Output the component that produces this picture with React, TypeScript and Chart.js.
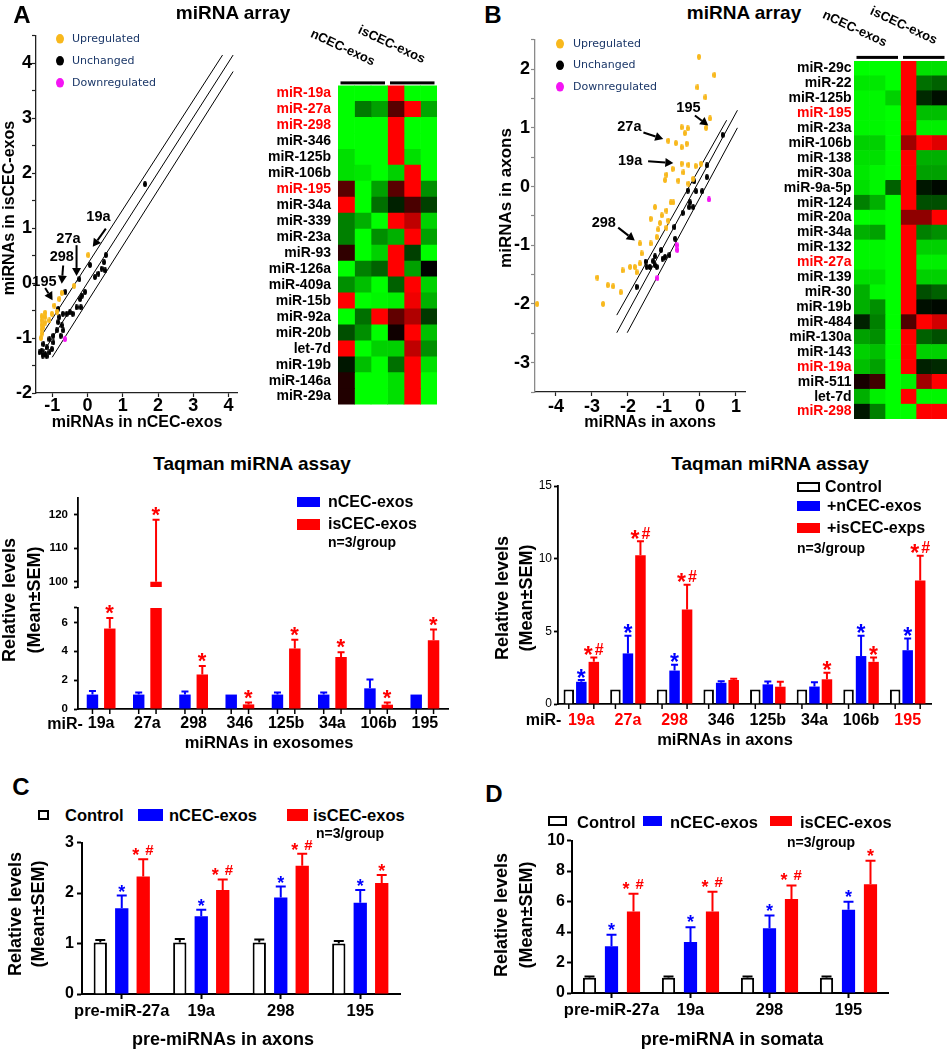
import React, { useEffect, useRef } from 'react';
import { Chart, registerables } from 'chart.js';

Chart.register(...registerables);
const FONT = "'Liberation Sans', Arial, Helvetica, sans-serif";
Chart.defaults.font.family = FONT;
Chart.defaults.color = '#000';

const BLUE = '#0000FF';
const RED = '#FF0000';
const ORANGE = '#F8B81C';
const MAGENTA = '#F414F4';
const NAVY = '#1B3768';

// ================= Panel A : miRNA array scatter =================
const upA = [[0.02,0.51],[-0.38,-0.05],[-0.73,-0.18],[-0.8,-0.29],[-0.94,-0.41],[-0.86,-0.52],[-1.01,-0.56],[-1.2,-0.54],[-1.2,-0.62],[-1.2,-0.72],[-1.08,-0.68],[-1.3,-0.6],[-1.3,-0.68],[-1.3,-0.76],[-1.3,-0.84],[-1.3,-0.92],[-1.32,-1.0],[-1.25,-0.8]];
const unchangedA = [[1.63,1.8],[0.52,0.51],[0.07,0.33],[0.47,0.38],[0.4,0.26],[0.31,0.17],[0.21,0.11],[0.5,0.23],[-0.23,0.07],[-0.07,-0.16],[-0.16,-0.23],[-0.21,-0.29],[-0.31,-0.44],[-0.19,-0.44],[-0.42,-0.56],[-0.5,-0.53],[-0.59,-0.56],[-0.7,-0.56],[-0.63,-0.16],[-0.83,-0.47],[-0.8,-0.62],[-0.83,-0.71],[-0.73,-0.77],[-0.87,-0.86],[-0.69,-0.86],[-0.76,-0.96],[-0.97,-0.96],[-1.08,-1.02],[-0.97,-1.08],[-1.16,-1.17],[-1.25,-1.11],[-1.3,-1.23],[-1.2,-1.29],[-1.08,-1.26],[-1.01,-1.2],[-1.27,-1.32],[-1.16,-1.33],[-1.36,-1.26]];
const downA = [[-0.64,-1.02]];
const refLinesA = [[[-1.35,-1.0],[3.83,4.15]],[[-1.3,-1.3],[4.13,4.15]],[[-1.0,-1.35],[4.13,3.85]]];
const arrowsA = [
  { text: '19a', at: [0.31,1.21], from: [0.52,0.99], to: [0.15,0.66] },
  { text: '27a', at: [-0.54,0.81], from: [-0.31,0.69], to: [-0.31,0.13] },
  { text: '298', at: [-0.73,0.48], from: [-0.69,0.32], to: [-0.73,-0.01] },
  { text: '195', at: [-1.22,0.02], from: [-1.2,-0.09], to: [-0.99,-0.31] },
];
const ticksAX = [-1,0,1,2,3,4];
const ticksAY = [-2,-1.5,-1,-0.5,0,0.5,1,1.5,2,2.5,3,3.5,4,4.5];

// ================= Panel A : heatmap =================
const rowsA = ['miR-19a','miR-27a','miR-298','miR-346','miR-125b','miR-106b','miR-195','miR-34a','miR-339','miR-23a','miR-93','miR-126a','miR-409a','miR-15b','miR-92a','miR-20b','let-7d','miR-19b','miR-146a','miR-29a'];
const redRowsA = ['miR-19a','miR-27a','miR-298','miR-195'];
const heatA = [
  [-1,-1,-1,1,-1,-1],
  [-1,-0.48,-0.63,0.35,1,-0.66],
  [-1,-1,-1,1,-1,-1],
  [-1,-1,-1,1,-1,-1],
  [-0.88,-1,-1,1,-0.88,-1],
  [-0.88,-0.91,-1,-0.82,1,-1],
  [0.35,-1,-0.63,0.35,1,-0.56],
  [1,-1,-0.44,-0.13,0.29,-0.25],
  [-0.5,-0.69,-1,1,0.75,-0.82],
  [-0.5,-1,-0.56,-0.69,1,-0.63],
  [0.19,-1,-0.82,1,-0.25,-1],
  [-1,-0.5,-0.38,1,-0.63,0],
  [-0.56,-0.75,-1,-0.38,1,-0.82],
  [1,-1,-0.97,-0.94,0.94,-0.69],
  [-1,-0.44,1,0.38,0.69,-0.22],
  [-0.31,-0.56,-1,0.06,1,-0.75],
  [1,-1,-0.82,-0.82,0.75,-0.56],
  [-0.09,-0.75,-1,-0.44,1,-0.88],
  [0.13,-1,-1,-0.88,1,-1],
  [0.13,-1,-1,-0.88,1,-1],
];

// ================= Panel B : miRNA array scatter =================
const upB = [[-0.03,2.21],[0.4,1.9],[-0.07,1.69],[0.15,1.52],[0.28,1.16],[0.17,1.0],[-0.51,1.01],[-0.34,0.99],[-0.42,0.91],[-0.88,0.78],[-0.67,0.74],[-0.37,0.73],[-0.51,0.67],[-0.51,0.39],[-0.32,0.37],[-0.12,0.35],[0.03,0.39],[-0.76,0.3],[-0.93,0.2],[-0.97,0.11],[-0.6,0.1],[-0.46,0.24],[-0.19,0.13],[-0.32,0.05],[-0.81,-0.27],[-0.74,-0.27],[-1.25,-0.35],[-0.93,-0.41],[-1.06,-0.49],[-0.88,-0.58],[-1.37,-0.55],[-1.11,-0.62],[-1.16,-0.73],[-1.2,-0.86],[-0.93,-0.7],[-1.67,-0.97],[-1.37,-0.97],[-1.62,-1.14],[-1.67,-1.31],[-1.81,-1.37],[-1.94,-1.37],[-1.76,-1.46],[-2.15,-1.43],[-2.41,-1.7],[-2.56,-1.68],[-2.2,-1.8],[-2.85,-1.55],[-2.69,-2.0],[-4.52,-2.0]];
const unchangedB = [[0.63,0.88],[0.19,0.36],[0.19,0.16],[-0.16,0.09],[0.06,-0.08],[-0.11,-0.08],[-0.34,-0.07],[-0.28,-0.27],[-0.3,-0.35],[-0.19,-0.35],[-0.48,-0.45],[-0.71,-0.69],[-0.69,-0.89],[-1.08,-1.08],[-0.97,-1.2],[-0.85,-1.17],[-1.25,-1.19],[-1.3,-1.27],[-1.25,-1.34],[-1.39,-1.37],[-1.48,-1.37],[-1.51,-1.28],[-1.2,-1.37],[-1.04,-1.23],[-1.76,-1.71]];
const downB = [[0.25,-0.22],[-0.65,-1.0],[-0.63,-1.08],[-1.18,-1.56]];
const refLinesB = [[[-2.31,-2.19],[0.74,1.13]],[[-2.31,-2.49],[1.04,1.3]],[[-2.02,-2.49],[1.04,1.0]]];
const arrowsB = [
  { text: '195', at: [-0.32,1.34], from: [-0.14,1.21], to: [0.23,1.04] },
  { text: '27a', at: [-1.96,1.01], from: [-1.57,0.92], to: [-1.02,0.81] },
  { text: '19a', at: [-1.94,0.43], from: [-1.44,0.43], to: [-0.74,0.4] },
  { text: '298', at: [-2.67,-0.62], from: [-2.27,-0.7], to: [-1.81,-0.92] },
];
const ticksBX = [-4,-3,-2,-1,0,1];
const ticksBY = [-3.5,-3,-2.5,-2,-1.5,-1,-0.5,0,0.5,1,1.5,2,2.5];

// ================= Panel B : heatmap =================
const rowsB = ['miR-29c','miR-22','miR-125b','miR-195','miR-23a','miR-106b','miR-138','miR-30a','miR-9a-5p','miR-124','miR-20a','miR-34a','miR-132','miR-27a','miR-139','miR-30','miR-19b','miR-484','miR-130a','miR-143','miR-19a','miR-511','let-7d','miR-298'];
const redRowsB = ['miR-195','miR-27a','miR-19a','miR-298'];
const heatB = [
  [-1,-1,-1,1,-0.88,-0.88],
  [-0.91,-0.91,-1,1,-0.44,-0.38],
  [-0.97,-0.97,-0.82,1,-0.16,-0.06],
  [-0.97,-0.97,-1,1,-0.75,-0.75],
  [-0.97,-0.97,-1,1,-0.94,-0.94],
  [-0.82,-0.82,-1,0.63,1,0.88],
  [-0.88,-0.88,-1,1,-0.69,-0.69],
  [-0.91,-0.97,-1,1,-0.63,-0.63],
  [-0.88,-0.97,-0.38,1,-0.09,-0.03],
  [-0.5,-0.69,-1,1,-0.31,-0.31],
  [-1,-0.97,-1,0.56,0.56,1],
  [-0.69,-0.63,-1,1,-0.5,-0.56],
  [-0.97,-0.97,-1,1,-0.82,-0.82],
  [-0.97,-0.97,-1,1,-0.94,-0.94],
  [-0.88,-0.88,-1,1,-0.82,-0.82],
  [-0.69,-0.97,-1,1,-0.31,-0.38],
  [-0.69,-0.56,-1,1,-0.06,-0.03],
  [-0.13,-0.5,-1,0.31,1,0.82],
  [-0.63,-0.56,-1,1,-0.38,-0.31],
  [-0.82,-0.75,-1,1,-0.82,-0.82],
  [-0.75,-0.63,-1,1,-0.13,-0.16],
  [0.09,0.25,-1,-0.94,0.63,1],
  [-0.69,-0.94,-1,1,-0.97,-0.97],
  [-0.09,-0.5,-1,-1,1,1],
];

// ================= Panel A : Taqman (exosomes) =================
const catsExo = ['19a','27a','298','346','125b','34a','106b','195'];
const nExo = [1.0,1.0,1.0,1.0,1.0,1.0,1.43,1.0];
const nExoErr = [0.24,0.14,0.22,0,0.14,0.14,0.62,0];
const isExo = [5.57,100,2.39,0.32,4.19,3.6,0.3,4.76];
const isExoErr = [0.73,18.5,0.58,0.13,0.61,0.33,0.15,0.74];
const nExoMarks = ['','','','','','','',''];
const isExoMarks = ['*','*','*','*','*','*','*','*'];
const exoUpperTicks = [98.4,100,110,120];
const exoUpperLabels = [100,110,120];
const exoLowerTicks = [0,2,4,6,7];
const exoLowerLabels = [0,2,4,6];

// ================= Panel B : Taqman (axons) =================
const catsAx = ['19a','27a','298','346','125b','34a','106b','195'];
const catColorsAx = [RED,RED,RED,'#000','#000','#000','#000',RED];
const ctrlAx = [1,1,1,1,1,1,1,1];
const ctrlAxErr = [0,0,0,0,0,0,0,0];
const nAx = [1.53,3.48,2.3,1.46,1.35,1.2,3.3,3.7];
const nAxErr = [0.12,1.22,0.4,0.1,0.2,0.3,1.4,0.8];
const isAx = [2.9,10.24,6.5,1.65,1.19,1.7,2.9,8.5];
const isAxErr = [0.3,0.96,1.7,0.08,0.34,0.45,0.3,1.7];
const nAxMarks = ['*','*','*','','','','*','*'];
const isAxMarks = ['*#','*#','*#','','','*','*','*#'];
const axTicks = [0,5,10,15];

// ================= Panel C : pre-miRNAs in axons =================
const catsPre = ['pre-miR-27a','19a','298','195'];
const ctrlC = [1.02,1.02,1.02,1.0];
const ctrlCErr = [0.05,0.07,0.06,0.05];
const nC = [1.7,1.54,1.91,1.81];
const nCErr = [0.25,0.13,0.22,0.25];
const isC = [2.33,2.06,2.54,2.2];
const isCErr = [0.34,0.21,0.24,0.16];
const nCMarks = ['*','*','*','*'];
const isCMarks = ['* #','* #','* #','*'];
const cTicks = [0,1,2,3];

// ================= Panel D : pre-miRNA in somata =================
const ctrlD = [1.0,1.0,1.0,1.0];
const ctrlDErr = [0.08,0.08,0.08,0.08];
const nD = [3.07,3.34,4.25,5.46];
const nDErr = [0.75,0.98,0.83,0.52];
const isD = [5.35,5.35,6.16,7.13];
const isDErr = [1.17,1.3,0.9,1.55];
const nDMarks = ['*','*','*','*'];
const isDMarks = ['* #','* #','* #','*'];
const dTicks = [0,2,4,6,8,10];

// ================= helpers & plugins =================
function heatColor(v: number) {
  const k = Math.round(Math.abs(v) * 255);
  return v >= 0 ? `rgb(${k},0,0)` : `rgb(0,${k},0)`;
}

function sprite(color: string, w: number, h: number) {
  const c = document.createElement('canvas');
  c.width = w; c.height = h;
  const g = c.getContext('2d') as CanvasRenderingContext2D;
  g.fillStyle = color;
  g.beginPath();
  g.ellipse(w / 2, h / 2, w / 2, h / 2, 0, 0, Math.PI * 2);
  g.fill();
  return c;
}

// draws significance marks so that every glyph's bottom sits at `bottom`
function drawMark(ctx: any, text: string, cx: number, bottom: number, color: string, o: any) {
  const chars = text.split('');
  const fontFor = (ch: string) => `bold ${ch === '*' ? o.star : o.hash}px ${FONT}`;
  const metrics = chars.map((ch) => {
    if (ch === ' ') return null;
    ctx.font = fontFor(ch);
    return ctx.measureText(ch);
  });
  const widths = metrics.map((m: any) => {
    if (!m) return o.space;
    return m.actualBoundingBoxLeft + m.actualBoundingBoxRight + o.kern;
  });
  const total = widths.reduce((a: number, b: number) => a + b, 0) - o.kern;
  let x = cx - total / 2;
  ctx.fillStyle = color;
  ctx.textAlign = 'left';
  ctx.textBaseline = 'alphabetic';
  chars.forEach((ch, i) => {
    const m: any = metrics[i];
    if (m) {
      ctx.font = fontFor(ch);
      ctx.fillText(ch, x + m.actualBoundingBoxLeft, bottom - m.actualBoundingBoxDescent);
    }
    x += widths[i];
  });
}

const errAnno = {
  id: 'errAnno',
  afterDatasetsDraw(chart: any, _a: any, o: any) {
    if (!o || !o.err) return;
    const ctx = chart.ctx;
    const ys = chart.scales.y;
    chart.data.datasets.forEach((ds: any, i: number) => {
      const meta = chart.getDatasetMeta(i);
      meta.data.forEach((bar: any, j: number) => {
        const v = ds.data[j];
        const e = o.err[i] ? o.err[i][j] : 0;
        const top = v + e;
        if (v > ys.max || top < ys.min) return;
        const x = bar.x;
        const yv = ys.getPixelForValue(v);
        const yt = ys.getPixelForValue(top);
        ctx.save();
        if (e > 0) {
          ctx.strokeStyle = o.errColor[i];
          ctx.lineWidth = o.lw;
          ctx.beginPath();
          ctx.moveTo(x, yv);
          ctx.lineTo(x, yt);
          ctx.moveTo(x - o.cap, yt);
          ctx.lineTo(x + o.cap, yt);
          ctx.stroke();
        }
        const m = o.marks[i] && o.marks[i][j];
        if (m) drawMark(ctx, m, x, yt - o.gap, o.markColor[i], o);
        ctx.restore();
      });
    });
  },
};

const barTicks = {
  id: 'barTicks',
  afterDraw(chart: any, _a: any, o: any) {
    if (!o || !o.sets) return;
    const ctx = chart.ctx;
    const b = chart.chartArea.bottom;
    ctx.save();
    ctx.strokeStyle = '#000';
    ctx.lineWidth = o.lw;
    o.sets.forEach((i: number) => {
      chart.getDatasetMeta(i).data.forEach((el: any) => {
        ctx.beginPath();
        ctx.moveTo(el.x, b);
        ctx.lineTo(el.x, b + o.len);
        ctx.stroke();
      });
    });
    ctx.restore();
  },
};

const groupBars = {
  id: 'groupBars',
  afterDraw(chart: any, _a: any, o: any) {
    if (!o || !o.groups) return;
    const ctx = chart.ctx;
    const a = chart.chartArea;
    const xs = chart.scales.x;
    ctx.save();
    ctx.fillStyle = '#000';
    o.groups.forEach((g: number[]) => {
      const x0 = xs.getPixelForValue(g[0]) + o.inset;
      const x1 = xs.getPixelForValue(g[1]) - o.inset;
      ctx.fillRect(x0, a.top - o.off - o.th, x1 - x0, o.th);
    });
    ctx.restore();
  },
};

const scatLegend = {
  id: 'scatLegend',
  afterDraw(chart: any, _a: any, o: any) {
    if (!o || !o.on) return;
    const ctx = chart.ctx;
    const a = chart.chartArea;
    ctx.save();
    ctx.font = `${o.size}px 'DejaVu Sans', Verdana, sans-serif`;
    ctx.textBaseline = 'middle';
    ctx.textAlign = 'left';
    for (let i = 0; i < 3; i++) {
      const ds = chart.data.datasets[i];
      const y = a.top + o.dy + i * o.step;
      ctx.fillStyle = ds.backgroundColor;
      ctx.beginPath();
      ctx.ellipse(a.left + o.dx, y, 4, 4.8, 0, 0, Math.PI * 2);
      ctx.fill();
      ctx.fillStyle = NAVY;
      ctx.fillText(ds.label, a.left + o.tx, y);
    }
    ctx.restore();
  },
};

const arrowAnno = {
  id: 'arrowAnno',
  afterDatasetsDraw(chart: any, _a: any, o: any) {
    if (!o || !o.items) return;
    const ctx = chart.ctx;
    const xs = chart.scales.x;
    const ys = chart.scales.y;
    ctx.save();
    ctx.fillStyle = '#000';
    ctx.strokeStyle = '#000';
    ctx.font = `bold ${o.size}px ${FONT}`;
    ctx.textAlign = 'center';
    ctx.textBaseline = 'middle';
    o.items.forEach((it: any) => {
      ctx.fillText(it.text, xs.getPixelForValue(it.at[0]), ys.getPixelForValue(it.at[1]));
      const fx = xs.getPixelForValue(it.from[0]);
      const fy = ys.getPixelForValue(it.from[1]);
      const tx = xs.getPixelForValue(it.to[0]);
      const ty = ys.getPixelForValue(it.to[1]);
      const ang = Math.atan2(ty - fy, tx - fx);
      const hl = 8;
      const hw = 4.5;
      const bx = tx - Math.cos(ang) * hl;
      const by = ty - Math.sin(ang) * hl;
      ctx.lineWidth = 2;
      ctx.beginPath();
      ctx.moveTo(fx, fy);
      ctx.lineTo(bx, by);
      ctx.stroke();
      ctx.beginPath();
      ctx.moveTo(tx, ty);
      ctx.lineTo(bx - Math.sin(ang) * hw, by + Math.cos(ang) * hw);
      ctx.lineTo(bx + Math.sin(ang) * hw, by - Math.cos(ang) * hw);
      ctx.closePath();
      ctx.fill();
    });
    ctx.restore();
  },
};

// ================= config builders =================
function makeScatter(o: any) {
  const pts = (arr: number[][]) => arr.map((p) => ({ x: p[0], y: p[1] }));
  return {
    type: 'scatter',
    data: {
      datasets: [
        { label: 'Upregulated', data: pts(o.up), backgroundColor: ORANGE, pointStyle: sprite(ORANGE, o.pw, o.ph), pointRadius: 3 },
        { label: 'Unchanged', data: pts(o.unch), backgroundColor: '#000', pointStyle: sprite('#000', o.pw, o.ph), pointRadius: 3 },
        { label: 'Downregulated', data: pts(o.down), backgroundColor: MAGENTA, pointStyle: sprite(MAGENTA, o.pw, o.ph), pointRadius: 3 },
        ...o.lines.map((l: number[][]) => ({ type: 'line', data: pts(l), borderColor: '#000', borderWidth: 1, pointRadius: 0, showLine: true, fill: false })),
      ],
    },
    options: {
      responsive: false, animation: false, devicePixelRatio: 1,
      layout: { padding: o.pad },
      plugins: {
        legend: { display: false }, tooltip: { enabled: false },
        scatLegend: { on: true, dx: o.lg.dx, dy: o.lg.dy, tx: o.lg.tx, step: o.lg.step, size: 11 },
        arrowAnno: { items: o.arrows, size: 14.5 },
      },
      scales: {
        x: {
          type: 'linear', min: o.xmin, max: o.xmax,
          afterBuildTicks: (s: any) => { s.ticks = o.xt.map((v: number) => ({ value: v })); },
          grid: { drawOnChartArea: false, drawTicks: true, tickLength: 4, tickWidth: 1.2, tickColor: o.xc },
          border: { display: true, color: o.xc, width: 1.3 },
          ticks: { autoSkip: false, maxRotation: 0, padding: o.xpad, font: { size: 18, weight: 'bold', lineHeight: 1 } },
          afterFit: (s: any) => { s.height = o.xH; },
        },
        y: {
          type: 'linear', min: o.ymin, max: o.ymax,
          afterBuildTicks: (s: any) => { s.ticks = o.yt.map((v: number) => ({ value: v })); },
          grid: { drawOnChartArea: false, drawTicks: true, tickLength: 4, tickWidth: 1.2, tickColor: o.yc },
          border: { display: true, color: o.yc, width: 1.3 },
          ticks: { autoSkip: false, padding: o.ypad, font: { size: 18, weight: 'bold' }, callback: (v: number) => (Number.isInteger(v) ? String(v) : '') },
          afterFit: (s: any) => { s.width = o.yW; },
        },
      },
    },
    plugins: [scatLegend, arrowAnno],
  };
}

function makeHeat(o: any) {
  const cols = [0, 1, 2, 3, 4, 5];
  return {
    type: 'bar',
    data: {
      labels: o.rows,
      datasets: cols.map((c) => ({
        data: o.rows.map(() => 1),
        backgroundColor: o.mat.map((r: number[]) => heatColor(r[c])),
        borderWidth: 0, barPercentage: 1, categoryPercentage: 1,
      })),
    },
    options: {
      indexAxis: 'y', responsive: false, animation: false, devicePixelRatio: 1,
      layout: { padding: o.pad },
      plugins: {
        legend: { display: false }, tooltip: { enabled: false },
        groupBars: { groups: [[0, 3], [3, 6]], inset: 2.5, off: o.off, th: 3 },
      },
      scales: {
        x: { display: false, stacked: true, min: 0, max: 6 },
        y: {
          stacked: true,
          grid: { display: false, drawTicks: false },
          border: { display: false },
          ticks: {
            autoSkip: false, padding: o.tl, font: { size: 14, weight: 'bold' },
            color: (c: any) => (o.red.includes(o.rows[c.index]) ? RED : '#000'),
          },
          afterFit: (s: any) => { s.width = o.yW; },
        },
      },
    },
    plugins: [groupBars],
  };
}

function makeBar(o: any) {
  return {
    type: 'bar',
    data: {
      labels: o.labels,
      datasets: o.sets.map((s: any) => ({
        data: s.data, backgroundColor: s.bg, borderColor: s.bc || s.bg, borderWidth: s.bw || 0,
        categoryPercentage: o.cp, barPercentage: o.bp,
      })),
    },
    options: {
      responsive: false, animation: false, devicePixelRatio: 1,
      layout: { padding: o.pad },
      plugins: {
        legend: { display: false }, tooltip: { enabled: false },
        errAnno: {
          err: o.sets.map((s: any) => s.err), marks: o.sets.map((s: any) => s.marks),
          errColor: o.sets.map((s: any) => s.ec), markColor: o.sets.map((s: any) => s.mc),
          lw: o.elw, cap: o.cap, gap: o.gap, star: o.star, hash: o.hash, space: o.space, kern: o.kern || 1,
        },
        barTicks: o.barTicks ? { sets: o.barTicks, len: 5, lw: 1.5 } : {},
      },
      scales: {
        x: {
          display: o.showX !== false,
          grid: { display: true, drawOnChartArea: false, drawTicks: !!o.xTick, tickLength: o.xTick || 0, tickWidth: o.axisW, tickColor: '#000', offset: false },
          border: { display: true, color: '#000', width: o.axisW },
          ticks: {
            autoSkip: false, maxRotation: 0, padding: o.xPad, font: { size: o.xFont, weight: 'bold' },
            color: o.xColors ? (c: any) => o.xColors[c.index] : '#000',
          },
          afterFit: (s: any) => { s.height = o.xH; },
        },
        y: {
          min: o.ymin, max: o.ymax,
          afterBuildTicks: (s: any) => { s.ticks = o.yticks.map((v: number) => ({ value: v })); },
          grid: { drawOnChartArea: false, drawTicks: true, tickLength: o.yTick, tickWidth: o.axisW, tickColor: '#000' },
          border: { display: true, color: '#000', width: o.axisW },
          ticks: {
            autoSkip: false, padding: o.yPad, font: { size: o.yFont, weight: o.yWeight || 'bold' },
            callback: (v: number) => (o.ylabels.includes(v) ? String(v) : ''),
          },
          afterFit: (s: any) => { s.width = o.yW; },
        },
      },
    },
    plugins: [errAnno, barTicks],
  };
}

// ================= React components =================
function ChartCanvas({ x, y, w, h, make }: any) {
  const ref = useRef<HTMLCanvasElement>(null);
  useEffect(() => {
    const chart = new Chart(ref.current as HTMLCanvasElement, make());
    return () => chart.destroy();
  }, []);
  return <canvas ref={ref} width={w} height={h} style={{ position: 'absolute', left: x, top: y, width: w, height: h }} />;
}

function T({ x, y, s, c = '#000', w = 700, r = 0, a = 'c', f = FONT, children }: any) {
  const tx = a === 'l' ? '0' : a === 'r' ? '-100%' : '-50%';
  return (
    <div style={{ position: 'absolute', left: x, top: y, transform: `translate(${tx},-50%) rotate(${r}deg)`, fontFamily: f, fontSize: s, fontWeight: w, color: c, lineHeight: 1, whiteSpace: 'nowrap' }}>
      {children}
    </div>
  );
}

function Box({ x, y, w, h, bg, bd }: any) {
  return <div style={{ position: 'absolute', left: x, top: y, width: w, height: h, boxSizing: 'border-box', background: bg, border: bd ? `2px solid ${bd}` : 'none' }} />;
}

export default function App() {
  const scatterA = () => makeScatter({
    up: upA, unch: unchangedA, down: downA, lines: refLinesA, arrows: arrowsA,
    xmin: -1.46, xmax: 4.24, ymin: -2, ymax: 4.5, xt: ticksAX, yt: ticksAY,
    pad: { left: 0, right: 8, top: 10, bottom: 0 }, yW: 36, xH: 42, xpad: 0, ypad: 0,
    xc: '#222', yc: '#222', pw: 4, ph: 6,
    lg: { dx: 24, dy: 3, tx: 36, step: 22 },
  });
  const scatterB = () => makeScatter({
    up: upB, unch: unchangedB, down: downB, lines: refLinesB, arrows: arrowsB,
    xmin: -4.58, xmax: 1.25, ymin: -3.5, ymax: 2.5, xt: ticksBX, yt: ticksBY,
    pad: { left: 0, right: 5, top: 10, bottom: 0 }, yW: 55, xH: 46, xpad: 2.5, ypad: 1,
    xc: '#222', yc: '#8a8a8a', pw: 4, ph: 6,
    lg: { dx: 25, dy: 4, tx: 38, step: 21.5 },
  });
  const heatmapA = () => makeHeat({ rows: rowsA, mat: heatA, red: redRowsA, pad: { left: 0, right: 8, top: 9, bottom: 7 }, yW: 98, tl: 7, off: 1 });
  const heatmapB = () => makeHeat({ rows: rowsB, mat: heatB, red: redRowsB, pad: { left: 0, right: 2, top: 7, bottom: 7 }, yW: 114, tl: 2.5, off: 2 });

  const exoSets = [
    { data: nExo, bg: BLUE, err: nExoErr, marks: nExoMarks, ec: BLUE, mc: BLUE },
    { data: isExo, bg: RED, err: isExoErr, marks: isExoMarks, ec: RED, mc: RED },
  ];
  const exoCommon = { labels: catsExo, sets: exoSets, cp: 0.75, bp: 0.66, elw: 2, cap: 3.5, gap: 4, star: 22, hash: 14, space: 4, axisW: 1.8, yTick: 4, yPad: 6, yFont: 11.5, yW: 78, xFont: 16 };
  const exoUpper = () => makeBar({ ...exoCommon, showX: false, ymin: 98.4, ymax: 125, yticks: exoUpperTicks, ylabels: exoUpperLabels, pad: { left: 0, right: 12, top: 8, bottom: 6 }, xH: 0 });
  const exoLower = () => makeBar({ ...exoCommon, ymin: 0, ymax: 7, yticks: exoLowerTicks, ylabels: exoLowerLabels, pad: { left: 0, right: 12, top: 12, bottom: 0 }, xH: 51, xPad: 5, barTicks: [0, 1] });

  const axons = () => makeBar({
    labels: catsAx, xColors: catColorsAx,
    sets: [
      { data: ctrlAx, bg: '#FFFFFF', bc: '#000', bw: 2, err: ctrlAxErr, marks: [], ec: '#000', mc: '#000' },
      { data: nAx, bg: BLUE, err: nAxErr, marks: nAxMarks, ec: BLUE, mc: BLUE },
      { data: isAx, bg: RED, err: isAxErr, marks: isAxMarks, ec: RED, mc: RED },
    ],
    cp: 0.805, bp: 0.84, elw: 2, cap: 3.5, gap: 2.5, star: 23, hash: 16, space: 0, kern: 2,
    axisW: 1.8, yTick: 4, yPad: 2, yFont: 12, yWeight: 'normal', yW: 78,
    ymin: 0, ymax: 15, yticks: axTicks, ylabels: axTicks,
    pad: { left: 0, right: 18, top: 10, bottom: 0 }, xH: 52, xPad: 6.5, xFont: 16, barTicks: [0, 2],
  });

  const preAxons = () => makeBar({
    labels: catsPre,
    sets: [
      { data: ctrlC, bg: '#FFFFFF', bc: '#000', bw: 2, err: ctrlCErr, marks: [], ec: '#000', mc: '#000' },
      { data: nC, bg: BLUE, err: nCErr, marks: nCMarks, ec: BLUE, mc: BLUE },
      { data: isC, bg: RED, err: isCErr, marks: isCMarks, ec: RED, mc: RED },
    ],
    cp: 0.81, bp: 0.62, elw: 2, cap: 5, gap: 4, star: 18, hash: 15, space: 5,
    axisW: 2, yTick: 5, yPad: 3, yFont: 16, yW: 82,
    ymin: 0, ymax: 3, yticks: cTicks, ylabels: cTicks,
    pad: { left: 0, right: 10, top: 10, bottom: 0 }, xH: 56, xTick: 5, xPad: 2.5, xFont: 16.5,
  });

  const preSomata = () => makeBar({
    labels: catsPre,
    sets: [
      { data: ctrlD, bg: '#FFFFFF', bc: '#000', bw: 2, err: ctrlDErr, marks: [], ec: '#000', mc: '#000' },
      { data: nD, bg: BLUE, err: nDErr, marks: nDMarks, ec: BLUE, mc: BLUE },
      { data: isD, bg: RED, err: isDErr, marks: isDMarks, ec: RED, mc: RED },
    ],
    cp: 0.835, bp: 0.6, elw: 2, cap: 5, gap: 5, star: 18, hash: 15, space: 5,
    axisW: 2, yTick: 5, yPad: 2, yFont: 16, yW: 92,
    ymin: 0, ymax: 10, yticks: dTicks, ylabels: dTicks,
    pad: { left: 0, right: 61, top: 10, bottom: 0 }, xH: 57, xTick: 5, xPad: 3, xFont: 16.5,
  });

  return (
    <div style={{ position: 'absolute', left: 0, top: 0, width: 949, height: 1050, background: '#fff', overflow: 'hidden', fontFamily: FONT }}>
      <ChartCanvas x={0} y={25} w={245} h={410} make={scatterA} />
      <ChartCanvas x={240} y={70} w={205} h={350} make={heatmapA} />
      <ChartCanvas x={480} y={28} w={270} h={410} make={scatterB} />
      <ChartCanvas x={740} y={50} w={209} h={380} make={heatmapB} />
      <ChartCanvas x={0} y={485} w={460} h={115} make={exoUpper} />
      <ChartCanvas x={0} y={595} w={460} h={165} make={exoLower} />
      <ChartCanvas x={480} y={476} w={469} h={280} make={axons} />
      <ChartCanvas x={0} y={830} w={410} h={220} make={preAxons} />
      <ChartCanvas x={480} y={829} w={469} h={221} make={preSomata} />

      {/* Panel letters & titles */}
      <T x={22} y={15} s={24}>A</T>
      <T x={493} y={15} s={24}>B</T>
      <T x={21} y={787} s={24}>C</T>
      <T x={494} y={794} s={24}>D</T>
      <T x={233} y={12} s={19}>miRNA array</T>
      <T x={744} y={12} s={19}>miRNA array</T>

      {/* Scatter axis titles */}
      <T x={137} y={422} s={16}>miRNAs in nCEC-exos</T>
      <T x={9} y={208} s={16} r={-90}>miRNAs in isCEC-exos</T>
      <T x={650} y={422} s={16}>miRNAs in axons</T>
      <T x={505} y={198} s={17} r={-90}>miRNAs in axons</T>

      {/* Heatmap column headers */}
      <T x={342.5} y={46.7} s={13} r={25}>nCEC-exos</T>
      <T x={391.7} y={44.2} s={13} r={25}>isCEC-exos</T>
      <T x={855} y={28} s={13} r={25}>nCEC-exos</T>
      <T x={904} y={25} s={13} r={25}>isCEC-exos</T>

      {/* Taqman exosomes */}
      <T x={252} y={463} s={19}>Taqman miRNA assay</T>
      <Box x={297} y={497} w={23} h={10} bg={BLUE} />
      <T x={328} y={502} s={16} a="l">nCEC-exos</T>
      <Box x={297} y={519} w={23} h={11} bg={RED} />
      <T x={328} y={524} s={16} a="l">isCEC-exos</T>
      <T x={328} y={542} s={14} a="l">n=3/group</T>
      <T x={65} y={723.5} s={16}>miR-</T>
      <T x={269} y={742} s={16.5}>miRNAs in exosomes</T>
      <T x={9} y={600} s={18} r={-90}>Relative levels</T>
      <T x={34} y={600} s={18} r={-90}>(Mean±SEM)</T>

      {/* Taqman axons */}
      <T x={770} y={463} s={19}>Taqman miRNA assay</T>
      <Box x={797} y={482} w={23} h={10} bg="#fff" bd="#000" />
      <T x={825} y={487} s={16} a="l">Control</T>
      <Box x={797} y={501} w={23} h={10} bg={BLUE} />
      <T x={827} y={506} s={16} a="l">+nCEC-exos</T>
      <Box x={797} y={523} w={23} h={10} bg={RED} />
      <T x={827} y={528} s={16} a="l">+isCEC-exps</T>
      <T x={797} y={548} s={14} a="l">n=3/group</T>
      <T x={543.5} y={720} s={16}>miR-</T>
      <T x={725} y={739} s={16.5}>miRNAs in axons</T>
      <T x={502} y={598} s={18} r={-90}>Relative levels</T>
      <T x={526} y={598} s={18} r={-90}>(Mean±SEM)</T>

      {/* Panel C */}
      <Box x={38} y={810} w={11} h={10} bg="#fff" bd="#000" />
      <T x={65} y={815} s={16.5} a="l">Control</T>
      <Box x={138} y={809} w={25} h={12} bg={BLUE} />
      <T x={169} y={815} s={16.5} a="l">nCEC-exos</T>
      <Box x={287} y={809} w={21} h={12} bg={RED} />
      <T x={313} y={815} s={16.5} a="l">isCEC-exos</T>
      <T x={316} y={833} s={14} a="l">n=3/group</T>
      <T x={223} y={1039} s={18}>pre-miRNAs in axons</T>
      <T x={15} y={914} s={18} r={-90}>Relative levels</T>
      <T x={38} y={914} s={18} r={-90}>(Mean±SEM)</T>

      {/* Panel D */}
      <Box x={548} y={816} w={19} h={10} bg="#fff" bd="#000" />
      <T x={577} y={822} s={16.5} a="l">Control</T>
      <Box x={643} y={816} w={19} h={10} bg={BLUE} />
      <T x={670} y={822} s={16.5} a="l">nCEC-exos</T>
      <Box x={770} y={816} w={22} h={10} bg={RED} />
      <T x={800} y={822} s={16.5} a="l">isCEC-exos</T>
      <T x={787} y={842} s={14} a="l">n=3/group</T>
      <T x={732} y={1039} s={18}>pre-miRNA in somata</T>
      <T x={501} y={915} s={18} r={-90}>Relative levels</T>
      <T x={526} y={915} s={18} r={-90}>(Mean±SEM)</T>
    </div>
  );
}
